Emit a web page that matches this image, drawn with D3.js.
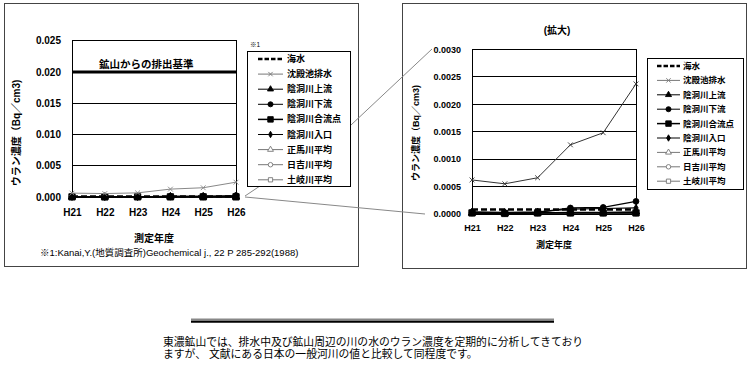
<!DOCTYPE html>
<html><head><meta charset="utf-8">
<script src="https://cdn.jsdelivr.net/npm/d3@7"></script>
<style>
html,body{margin:0;padding:0;background:#fff;}
svg text{font-family:"Liberation Sans","Noto Sans CJK JP",sans-serif;fill:#000;}
</style></head>
<body>
<svg id="c" width="750" height="365"></svg>
<script>
const categories = ["H21","H22","H23","H24","H25","H26"];
const seaWater     = [0.00008,0.00008,0.00008,0.00008,0.00008,0.00008];
const settlingPond = [0.00062,0.00055,0.00066,0.00126,0.00148,0.00237];
const upstream     = [0.00002,0.00001,0.00002,0.00003,0.00003,0.00004];
const downstream   = [0.00003,0.00002,0.00003,0.00011,0.00012,0.00023];
const confluence   = [0.00002,0.00001,0.00002,0.00002,0.00002,0.00002];
const inlet        = [0.00004,0.00003,0.00004,0.00009,0.00010,0.00011];
const shobaAvg     = [0.00001,0.00001,0.00001,0.00001,0.00001,0.00001];
const hiyoshiAvg   = [0.00001,0.00001,0.00001,0.00001,0.00001,0.00001];
const tokiAvg      = [0.00001,0.00001,0.00001,0.00001,0.00001,0.00001];
const seriesNames = ["海水","沈殿池排水","陰洞川上流","陰洞川下流","陰洞川合流点","陰洞川入口","正馬川平均","日吉川平均","土岐川平均"];
const leftTicks  = [0,0.005,0.010,0.015,0.020,0.025];
const rightTicks = [0,0.0005,0.0010,0.0015,0.0020,0.0025,0.0030];
const dischargeStandard = 0.020;
const dischargeLabel = "鉱山からの排出基準";
const yTitle = "ウラン濃度（Bq／cm3)";
const xTitle = "測定年度";
const zoomTitle = "(拡大)";
const footnote = "※1:Kanai,Y.(地質調査所)Geochemical j., 22 P 285-292(1988)";
const bodyLines = ["東濃鉱山では、排水中及び鉱山周辺の川の水のウラン濃度を定期的に分析してきており","ますが、 文献にある日本の一般河川の値と比較して同程度です。"];

const seriesValues = [seaWater,settlingPond,upstream,downstream,confluence,inlet,shobaAvg,hiyoshiAvg,tokiAvg];
const styles = [
  {color:"#000", width:2.5, lw:2.5, dash:"6,3", sym:null},
  {color:"#777", width:1, lw:1, sym:"x", fill:"none"},
  {color:"#000", width:1.2, lw:1, sym:d3.symbolTriangle, size:24, lsize:16, fill:"#000"},
  {color:"#000", width:1.2, lw:1, sym:d3.symbolCircle, size:26, lsize:20, fill:"#000"},
  {color:"#000", width:1.8, lw:1.5, sym:d3.symbolSquare, size:40, lsize:30, fill:"#000"},
  {color:"#000", width:1.2, lw:1, sym:d3.symbolDiamond, size:16, lsize:12, fill:"#000"},
  {color:"#777", width:1, lw:1, sym:d3.symbolTriangle, size:20, lsize:15, fill:"#fff"},
  {color:"#777", width:1, lw:1, sym:d3.symbolCircle, size:20, lsize:16, fill:"#fff"},
  {color:"#777", width:1, lw:1, sym:d3.symbolSquare, size:22, lsize:18, fill:"#fff"}
];

const svg = d3.select("#c");

function marker(g, st, x, y, color, size, xs){
  if(!st.sym) return;
  if(st.sym==="x"){
    const s=xs||2.6;
    g.append("path").attr("d",`M${x-s},${y-s}L${x+s},${y+s}M${x-s},${y+s}L${x+s},${y-s}`)
      .attr("stroke",color).attr("stroke-width",0.9).attr("fill","none");
    return;
  }
  g.append("path").attr("d",d3.symbol().type(st.sym).size(size)())
    .attr("transform",`translate(${x},${y})`)
    .attr("fill",st.fill==="#000"?color:st.fill).attr("stroke",color).attr("stroke-width",0.9);
}

function chart(o){
  const g = svg.append("g");
  const x = d3.scalePoint().domain(categories).range([o.x0,o.x1]);
  const y = d3.scaleLinear().domain([0,d3.max(o.ticks)]).range([o.y0,o.y1]);
  g.selectAll("line.grid").data(o.ticks).join("line")
    .attr("x1",o.x0).attr("x2",o.x1).attr("y1",d=>y(d)).attr("y2",d=>y(d))
    .attr("stroke","#000").attr("stroke-width",1).attr("shape-rendering","crispEdges");
  g.append("rect").attr("x",o.x0).attr("y",o.y1).attr("width",o.x1-o.x0).attr("height",o.y0-o.y1)
    .attr("fill","none").attr("stroke","#000").attr("stroke-width",1).attr("shape-rendering","crispEdges");
  const ya = d3.axisLeft(y).tickValues(o.ticks).tickSize(0).tickPadding(0).tickFormat(d3.format(o.fmt));
  const yg = g.append("g").attr("transform",`translate(${o.x0-o.lpad},0)`).call(ya);
  yg.select(".domain").remove();
  yg.selectAll("text").attr("font-size",o.fs).attr("font-weight","bold")
    .attr("font-family","'Liberation Sans',sans-serif");
  const xa = d3.axisBottom(x).tickSize(0).tickPadding(0);
  const xg = g.append("g").attr("transform",`translate(0,${o.y0+o.xpad})`).call(xa);
  xg.select(".domain").remove();
  xg.selectAll("text").attr("font-size",o.fs).attr("font-weight","bold")
    .attr("font-family","'Liberation Sans',sans-serif");
  if(o.standard){
    g.append("line").attr("x1",o.x0).attr("x2",o.x1+1).attr("y1",y(dischargeStandard)).attr("y2",y(dischargeStandard))
      .attr("stroke","#000").attr("stroke-width",3);
    g.append("text").attr("x",o.x0+27).attr("y",y(dischargeStandard)-4).attr("font-size",10.5)
      .attr("font-weight","bold").text(dischargeLabel);
  }
  const line = d3.line().x((d,i)=>x(categories[i])).y(d=>y(d));
  for(let k=seriesValues.length-1;k>=0;k--){
    const st=styles[k];
    const col = (k===1 && o.pondColor)?o.pondColor:st.color;
    g.append("path").attr("d",line(seriesValues[k])).attr("fill","none")
      .attr("stroke",col).attr("stroke-width",st.width).attr("stroke-dasharray",st.dash||null);
    seriesValues[k].forEach((v,i)=>marker(g,st,x(categories[i]),y(v),col,st.size,2.4));
  }
  g.append("text").attr("transform",`translate(${o.ytx},${o.yty}) rotate(-90)`).attr("text-anchor","middle")
    .attr("dominant-baseline","central").attr("font-size",o.tfs).attr("font-weight","bold").text(yTitle);
  g.append("text").attr("x",(o.x0+o.x1)/2).attr("y",o.xty).attr("text-anchor","middle")
    .attr("dominant-baseline","central").attr("font-size",o.tfs).attr("font-weight","bold").text(xTitle);
  return g;
}

function legend(o){
  const g = svg.append("g");
  g.append("rect").attr("x",o.x).attr("y",o.y).attr("width",o.w).attr("height",o.h)
    .attr("fill","#fff").attr("stroke","#000").attr("stroke-width",1).attr("shape-rendering","crispEdges");
  seriesNames.forEach((n,k)=>{
    const st=styles[k];
    const yy=o.y0+k*o.step;
    const col = (k===1 && o.pondColor)?o.pondColor:st.color;
    g.append("line").attr("x1",o.lx0).attr("x2",o.lx1).attr("y1",yy).attr("y2",yy)
      .attr("stroke",col).attr("stroke-width",st.lw).attr("stroke-dasharray",st.dash?"4.5,2":null);
    marker(g,st,(o.lx0+o.lx1)/2,yy,col,st.lsize,2.2);
    g.append("text").attr("x",o.tx).attr("y",yy).attr("dominant-baseline","central")
      .attr("font-size",o.fs).attr("font-weight","bold").text(n);
  });
}

svg.append("rect").attr("x",4.5).attr("y",3.5).attr("width",354).attr("height",263)
  .attr("fill","none").attr("stroke","#444").attr("stroke-width",1);
svg.append("rect").attr("x",402.5).attr("y",3.5).attr("width",344).attr("height",265)
  .attr("fill","none").attr("stroke","#444").attr("stroke-width",1);

chart({x0:72,x1:236,y0:197,y1:40.7,ticks:leftTicks,fmt:".3f",fs:10,lpad:11,xpad:12,
  standard:true,ytx:16,yty:133,xty:238,tfs:10,pondColor:"#888"});
chart({x0:472,x1:636,y0:214,y1:49.3,ticks:rightTicks,fmt:".4f",fs:9,lpad:11,xpad:11,
  standard:false,ytx:416,yty:133,xty:245,tfs:9,pondColor:"#333"});

svg.append("text").attr("x",557).attr("y",30).attr("text-anchor","middle").attr("dominant-baseline","central")
  .attr("font-size",10).attr("font-weight","bold").text(zoomTitle);

svg.append("path").attr("d","M245,196L351,125L432,49").attr("fill","none").attr("stroke","#888").attr("stroke-width",1);
svg.append("path").attr("d","M245,197L425,214").attr("fill","none").attr("stroke","#888").attr("stroke-width",1);

legend({x:247.5,y:51.5,w:103,h:135,y0:59,step:15.1,lx0:258,lx1:283,tx:287,fs:9});
legend({x:647.5,y:58.5,w:96,h:131,y0:66,step:14.4,lx0:657,lx1:680,tx:683,fs:8.5});

svg.append("text").attr("x",250).attr("y",44).attr("dominant-baseline","central").attr("font-size",6.5).text("※1");
svg.append("text").attr("x",40).attr("y",252).attr("dominant-baseline","central").attr("font-size",9.5).text(footnote);

svg.append("line").attr("x1",191).attr("x2",554).attr("y1",319.3).attr("y2",319.3).attr("stroke","#888").attr("stroke-width",1.6);
svg.append("line").attr("x1",191).attr("x2",554).attr("y1",321.6).attr("y2",321.6).attr("stroke","#000").attr("stroke-width",2.4);

bodyLines.forEach((t,i)=>{
  svg.append("text").attr("x",163).attr("y",342+i*12).attr("dominant-baseline","central")
    .attr("font-size",10.8).text(t);
});
</script>
</body></html>
